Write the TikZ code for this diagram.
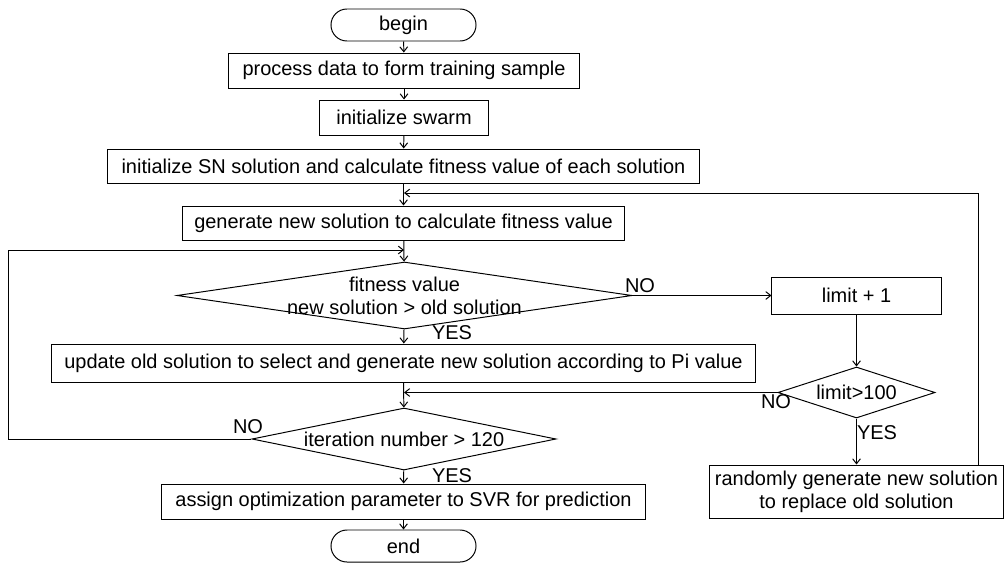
\documentclass[tikz,border=0pt]{standalone}
\usepackage{fontspec}
\setmainfont{Liberation Sans}
\usetikzlibrary{shapes.geometric,arrows.meta}

\begin{document}
\begin{tikzpicture}[x=0.025cm,y=-0.025cm,line width=0.7pt,
  font=\fontsize{14.2}{16.5}\selectfont,
  box/.style={draw,rectangle,inner sep=0pt,minimum height=0.875cm,align=center},
  term/.style={draw,rectangle,rounded corners=0.4cm,inner sep=0pt,minimum width=3.625cm,minimum height=0.8cm},
  decide/.style={draw,diamond,inner sep=0pt,aspect=1},
  lbl/.style={inner sep=0pt},
  flow/.style={-{Straight Barb[length=3.5pt,width=5.5pt]}}]
\useasboundingbox (0,0) rectangle (1004,566);

% Main column
\node[term] (begin) at (403.5,25) {begin};
\node[box,minimum width=8.75cm] (proc) at (404,70.5) {process data to form training sample};
\node[box,minimum width=4.2cm] (swarm) at (404,117.5) {initialize swarm};
\node[box,minimum width=14.775cm,minimum height=0.85cm] (initsn) at (403.5,166) {initialize SN solution and calculate fitness value of each solution};
\node[box,minimum width=11.025cm,minimum height=0.85cm] (gen) at (403.5,223) {generate new solution to calculate fitness value};
\node[decide,minimum width=11.375cm,minimum height=1.675cm,
  label={[align=center]center:{fitness value\\new solution > old solution}}] (d1) at (404.5,295.5) {};
\node[box,minimum width=17.575cm,minimum height=0.95cm] (update) at (403.5,363) {update old solution to select and generate new solution according to Pi value};
\node[decide,minimum width=7.6cm,minimum height=1.55cm,
  label={center:iteration number > 120}] (d2) at (404,439) {};
\node[box,minimum width=12.075cm] (assign) at (403.5,501.5) {assign optimization parameter to SVR for prediction};
\node[term] (end) at (403.5,546) {end};

% Limit branch
\node[box,minimum width=4.225cm,minimum height=0.925cm] (limit) at (856.5,295.5) {limit + 1};
\node[decide,minimum width=3.925cm,minimum height=1.275cm,
  label={center:limit>100}] (d3) at (856.5,392.5) {};
\node[box,minimum width=7.35cm,minimum height=1.325cm] (rand) at (856.5,491.5) {randomly generate new solution\\to replace old solution};

% Branch labels
\node[lbl] (no1) at (640,286) {NO};
\node[lbl] (yes1) at (452,333) {YES};
\node[lbl] (no2) at (248,427) {NO};
\node[lbl] (yes2) at (452,476) {YES};
\node[lbl] (no3) at (776,402) {NO};
\node[lbl] (yes3) at (877,433) {YES};

% Junctions
\coordinate (j1) at (404,193);
\coordinate (fb) at (978,193);
\coordinate (j0) at (404,250);
\coordinate (lp) at (8,250);
\coordinate (j2) at (404,392.5);

% Main flow
\draw[flow] (begin) -- (proc);
\draw[flow] (proc) -- (swarm);
\draw[flow] (swarm) -- (initsn);
\draw[flow] (initsn) -- (gen);
\draw[flow] (gen) -- (d1);
\draw[flow] (d1) -- (update);
\draw[flow] (update) -- (d2);
\draw[flow] (d2) -- (assign);
\draw[flow] (assign) -- (end);

% Loops
\draw[flow] (d1.east) -- (limit);
\draw[flow] (limit) -- (d3);
\draw[flow] (d3) -- (rand);
\draw[flow] (d3.west) -- (j2);
\draw[flow] (rand.north -| fb) -- (fb) -- (j1);
\draw[flow] (d2.west) -| (lp) -- (j0);
\end{tikzpicture}
\end{document}
